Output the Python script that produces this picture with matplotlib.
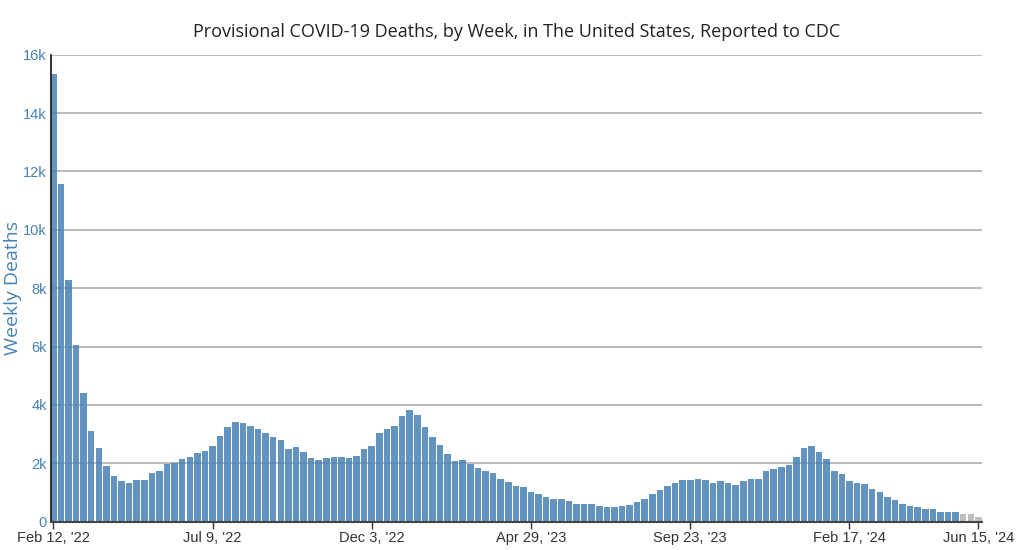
import matplotlib.pyplot as plt

# weekly deaths, Feb 12 '22 .. Jun 15 '24 (last 3 weeks provisional / incomplete)
deaths = [
    15340, 11580, 8290, 6060, 4420, 3120, 2510, 1910, 1570, 1410,
    1340, 1430, 1430, 1680, 1750, 1970, 2000, 2140, 2210, 2340,
    2410, 2580, 2930, 3230, 3410, 3380, 3290, 3170, 3040, 2910,
    2800, 2500, 2550, 2380, 2180, 2120, 2170, 2210, 2210, 2170,
    2250, 2500, 2590, 3030, 3160, 3290, 3630, 3840, 3650, 3230,
    2890, 2640, 2330, 2090, 2120, 1980, 1840, 1750, 1670, 1460,
    1360, 1210, 1190, 1020, 950, 850, 760, 760, 700, 620,
    610, 590, 530, 490, 510, 540, 560, 690, 770, 940,
    1080, 1210, 1320, 1430, 1430, 1470, 1430, 1330, 1400, 1310,
    1250, 1400, 1450, 1450, 1750, 1820, 1870, 1940, 2230, 2510,
    2600, 2390, 2140, 1750, 1630, 1410, 1330, 1280, 1110, 1030,
    840, 750, 620, 550, 490, 440, 440, 320, 320, 320,
    280, 250, 160,
]
n_incomplete = 3

tick_pos = [0, 21, 42, 63, 84, 105, 122]
tick_labels = ["Feb 12, '22", "Jul 9, '22", "Dec 3, '22", "Apr 29, '23",
               "Sep 23, '23", "Feb 17, '24", "Jun 15, '24"]
y_ticks = [0, 2000, 4000, 6000, 8000, 10000, 12000, 14000, 16000]
y_labels = ["0", "2k", "4k", "6k", "8k", "10k", "12k", "14k", "16k"]

blue = "#4682b4"

fig = plt.figure(figsize=(10.24, 5.5), dpi=100)
ax = fig.add_axes([0.0498, 0.0515, 0.909, 0.849])

x = list(range(len(deaths)))
n = len(deaths)
colors = [blue] * (n - n_incomplete) + ["#b4b4b4"] * n_incomplete
ax.bar(x, deaths, width=0.86, color=colors, alpha=0.85, zorder=2)

ax.set_xlim(-0.3, 122.45)
ax.set_ylim(0, 16000)

ax.set_yticks(y_ticks)
ax.set_yticklabels(y_labels, color=blue, fontsize=10.5, family="Liberation Sans")
ax.set_yticks([0, 16000], minor=True)
ax.tick_params(axis="y", which="major", length=0, pad=3)
ax.tick_params(axis="y", which="minor", length=5, width=1.2, color="#222222")

ax.set_xticks(tick_pos)
ax.set_xticklabels(tick_labels, color="#333333", fontsize=10.5, family="Liberation Sans")
ax.tick_params(axis="x", length=5, width=1, color="#333333", pad=2)

ax.grid(axis="y", color="#b4b4b4", linewidth=1.3, zorder=1)
ax.set_axisbelow(True)

for s in ["top", "right"]:
    ax.spines[s].set_visible(False)
ax.spines["left"].set_color("#222222")
ax.spines["left"].set_linewidth(1.3)
ax.spines["bottom"].set_color("#444444")
ax.spines["bottom"].set_linewidth(1.5)

ax.set_ylabel("Weekly Deaths", color=blue, fontsize=14, family="Open Sans")
ax.yaxis.set_label_coords(-0.031, 0.5)
ax.set_title("Provisional COVID-19 Deaths, by Week, in The United States, Reported to CDC",
             fontsize=13, family="Open Sans", color="#222222", pad=13)

fig.savefig("out.png", dpi=100)
